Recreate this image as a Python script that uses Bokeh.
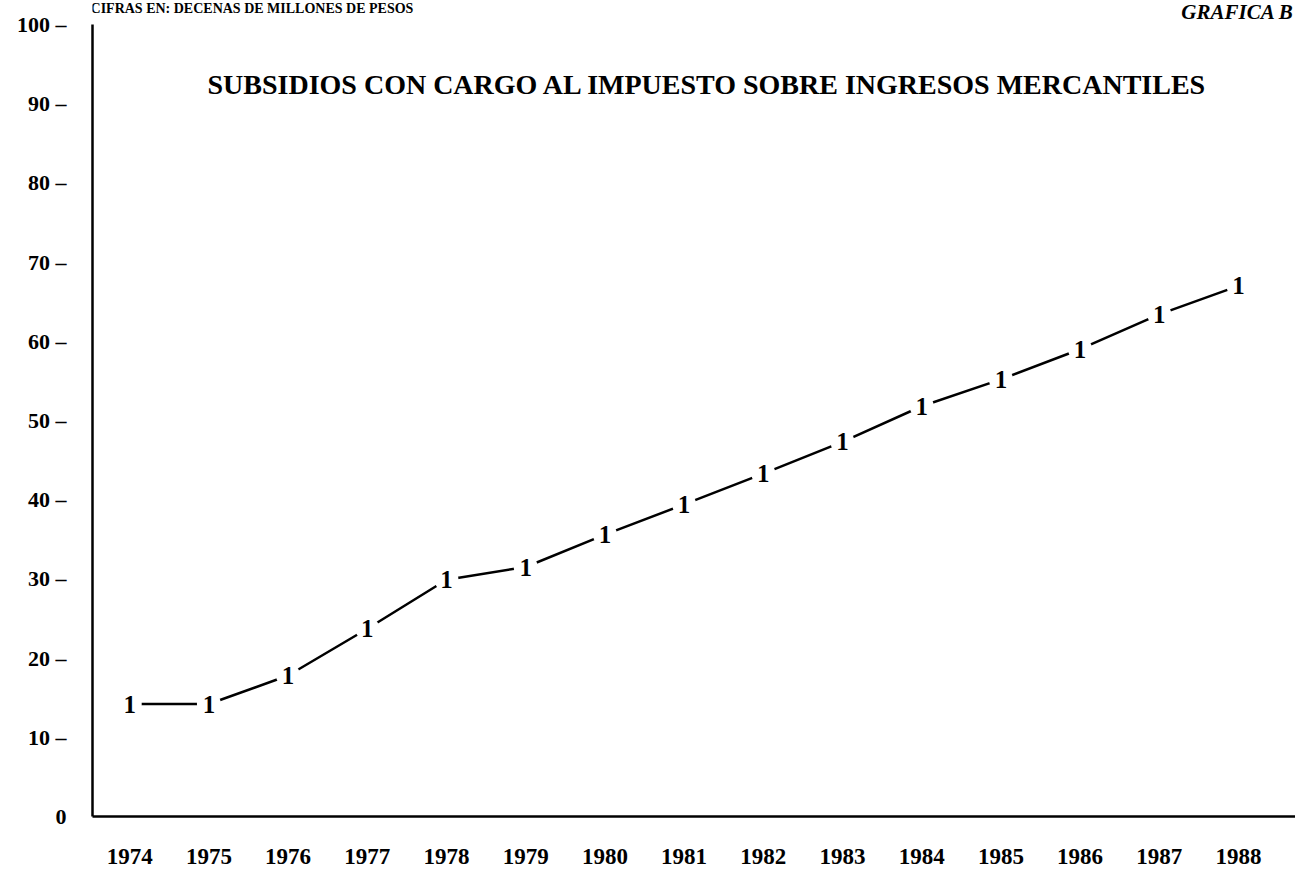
from bokeh.plotting import figure
from bokeh.models import Range1d, FixedTicker, Label, ColumnDataSource
from bokeh.core.properties import value
from bokeh.embed import file_html
from bokeh.resources import INLINE

years = [1974, 1975, 1976, 1977, 1978, 1979, 1980, 1981, 1982, 1983, 1984, 1985, 1986, 1987, 1988]
subsidios = [14.2, 14.2, 17.8, 23.7, 29.9, 31.5, 35.6, 39.4, 43.3, 47.3, 51.8, 55.2, 59.0, 63.4, 67.0]
y_ticks = [0, 10, 20, 30, 40, 50, 60, 70, 80, 90, 100]
y_tick_labels = ["0"] + [f"{t} \u2013" for t in y_ticks[1:]]
title_text = "SUBSIDIOS CON CARGO AL IMPUESTO SOBRE INGRESOS MERCANTILES"
header_text = "CIFRAS EN: DECENAS DE MILLONES DE PESOS"
graf_text = "GRAFICA B"

SERIF = "Liberation Serif"

p = figure(width=1295, height=872, output_backend="svg", toolbar_location=None,
           x_range=Range1d(1973.53, 1988.72), y_range=Range1d(0, 103.03),
           min_border_left=92, min_border_right=0, min_border_top=0, min_border_bottom=56)
p.outline_line_color = None
p.xgrid.visible = False
p.ygrid.visible = False
p.background_fill_color = "white"
p.border_fill_color = "white"

# Y axis
ya = p.yaxis[0]
ya.ticker = FixedTicker(ticks=y_ticks)
ya.bounds = (0, 100)
ya.major_label_overrides = {t: l for t, l in zip(y_ticks, y_tick_labels)}
ya.major_tick_out = 0
ya.major_tick_in = 0
ya.minor_tick_out = 0
ya.minor_tick_in = 0
ya.axis_line_width = 2.5
ya.axis_line_color = "black"
ya.major_label_standoff = 26
ya.major_label_text_font = SERIF
ya.major_label_text_font_style = "bold"
ya.major_label_text_font_size = "22px"
ya.major_label_text_color = "black"

# X axis
xa = p.xaxis[0]
xa.ticker = FixedTicker(ticks=years)
xa.major_label_overrides = {y: str(y) for y in years}
xa.major_tick_out = 0
xa.major_tick_in = 0
xa.minor_tick_out = 0
xa.minor_tick_in = 0
xa.axis_line_width = 2.5
xa.axis_line_color = "black"
xa.major_label_standoff = 32
xa.major_label_text_font = SERIF
xa.major_label_text_font_style = "bold"
xa.major_label_text_font_size = "23px"
xa.major_label_text_color = "black"

src = ColumnDataSource(dict(x=years, y=subsidios, t=["1"] * len(years)))
p.line("x", "y", source=src, line_color="black", line_width=2.5)
p.scatter("x", "y", source=src, size=24, fill_color="white", line_color=None)
p.text("x", "y", text="t", source=src, text_font=value(SERIF), text_font_style="bold",
       text_font_size="25px", text_align="center", text_baseline="middle", text_color="black")

p.add_layout(Label(x=1981.30, y=92.4, text=title_text, text_font=SERIF, text_font_style="bold",
                   text_font_size="28px", text_align="center", text_baseline="alphabetic",
                   text_color="black"))
p.add_layout(Label(x=1973.505, y=102.0, text=header_text, text_font=SERIF, text_font_style="bold",
                   text_font_size="14px", text_align="left", text_baseline="alphabetic",
                   text_color="black"))
p.add_layout(Label(x=1988.70, y=101.6, text=graf_text, text_font=SERIF, text_font_style="bold italic",
                   text_font_size="21px", text_align="right", text_baseline="alphabetic",
                   text_color="black"))

open("out.html", "w").write(file_html(p, INLINE))
